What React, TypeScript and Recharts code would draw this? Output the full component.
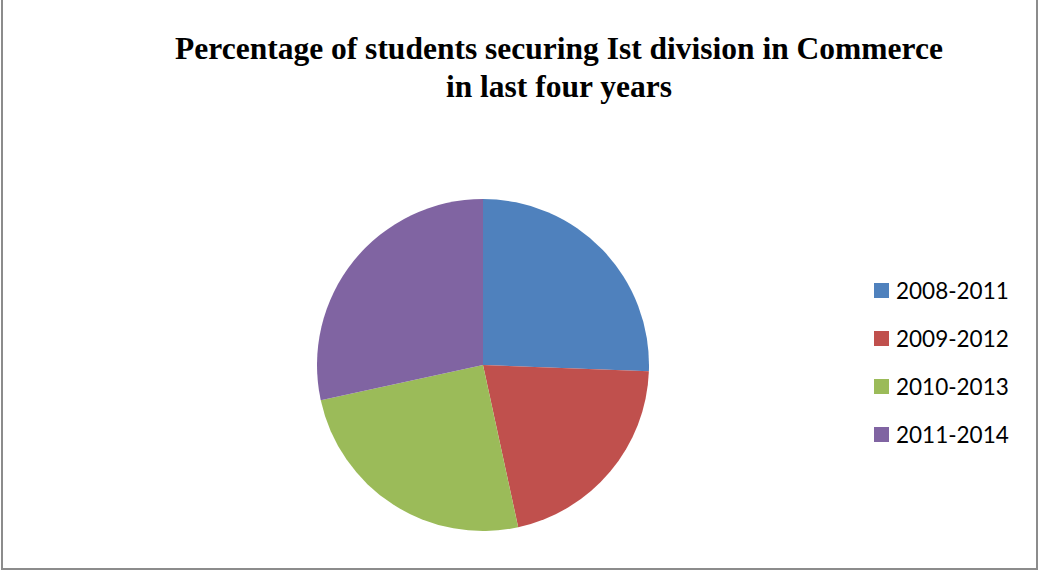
import * as React from "react";
import { PieChart, Pie, Cell, Legend } from "recharts";

// ─── Data (percent of the pie) ────────────────────────────────────────────────
const periods = ["2008-2011", "2009-2012", "2010-2013", "2011-2014"];
const shares = [25.6, 21.0, 25.0, 28.4];
const sliceColors = ["#4f81bd", "#c0504d", "#9bbb59", "#8064a2"];

const titleLines = [
  "Percentage of students securing Ist division in Commerce",
  "in last four years",
];

const data = periods.map((name, i) => ({ name, value: shares[i] }));

const W = 1038;
const H = 573;

function LegendList() {
  return (
    <div style={{ fontFamily: "Lato, 'Open Sans', sans-serif", fontSize: 22.5, color: "#000" }}>
      {periods.map((p, i) => (
        <div key={p} style={{ display: "flex", alignItems: "center", height: 48 }}>
          <span
            style={{
              display: "inline-block",
              width: 15,
              height: 15,
              background: sliceColors[i],
              marginRight: 7,
            }}
          />
          <span>{p}</span>
        </div>
      ))}
    </div>
  );
}

export default function App() {
  return (
    <div style={{ position: "relative", width: W, height: H, background: "#fff" }}>
      <style>{`body{margin:0}`}</style>
      {/* frame: left, right and bottom edges only (top is cropped in the source) */}
      <div
        style={{
          position: "absolute",
          left: 1,
          top: 0,
          width: 1033,
          height: 568,
          borderLeft: "2px solid #8c8c8c",
          borderRight: "2px solid #8c8c8c",
          borderBottom: "2px solid #8c8c8c",
        }}
      />
      <div
        style={{
          position: "absolute",
          left: 0,
          top: 30,
          width: 1118,
          textAlign: "center",
          fontFamily: "'Liberation Serif', 'Times New Roman', serif",
          fontWeight: "bold",
          fontSize: 31.5,
          lineHeight: "38px",
          color: "#000",
        }}
      >
        {titleLines.map((t) => (
          <div key={t}>{t}</div>
        ))}
      </div>
      <PieChart
        width={W}
        height={H}
        margin={{ top: 0, right: 0, bottom: 0, left: 0 }}
        style={{ position: "absolute", left: 0, top: 0 }}
      >
        <Pie
          data={data}
          dataKey="value"
          nameKey="name"
          cx={483}
          cy={365}
          innerRadius={0}
          outerRadius={166}
          startAngle={90}
          endAngle={-270}
          stroke="none"
          isAnimationActive={false}
        >
          {data.map((d, i) => (
            <Cell key={d.name} fill={sliceColors[i]} />
          ))}
        </Pie>
        <Legend
          content={<LegendList />}
          wrapperStyle={{ position: "absolute", left: 874, top: 266, width: 160 }}
        />
      </PieChart>
    </div>
  );
}
